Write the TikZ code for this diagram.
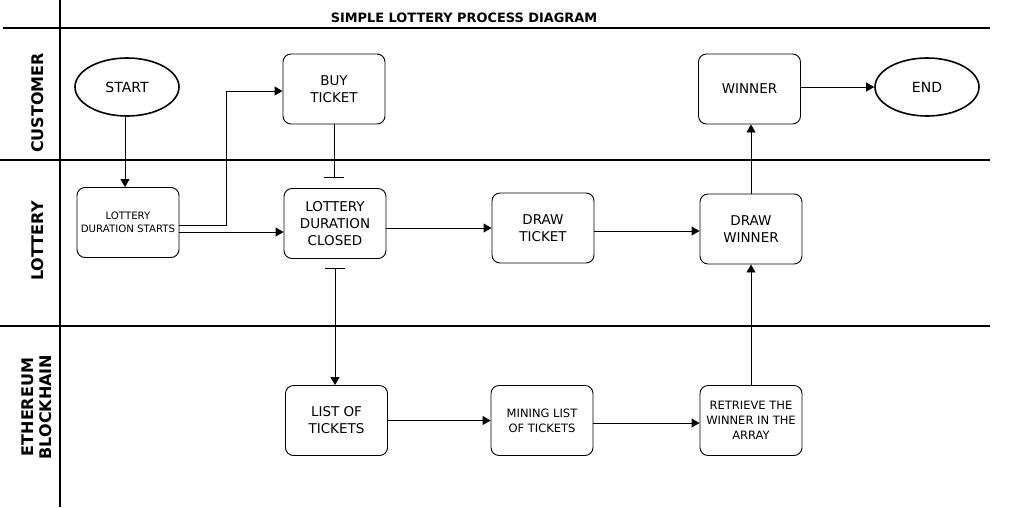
\documentclass[tikz,border=0pt]{standalone}
\usepackage{fontspec}
\setmainfont{DejaVu Sans}
\usetikzlibrary{shapes.geometric,arrows.meta,calc}
\begin{document}
\begin{tikzpicture}[x=1pt,y=-1pt,
  lane/.style={line width=2.6pt},
  box/.style={draw,rounded corners=8pt,line width=0.9pt,minimum width=102pt,minimum height=70pt,inner sep=0pt,align=center,font=\fontsize{13.5}{17}\selectfont},
  smallbox/.style={box,font=\fontsize{11.5}{15}\selectfont},
  tinybox/.style={box,font=\fontsize{10.2}{13}\selectfont},
  oval/.style={draw,ellipse,line width=1.6pt,minimum width=104pt,minimum height=58pt,inner sep=0pt,font=\fontsize{14}{15}\selectfont},
  lanelabel/.style={rotate=90,font=\bfseries\fontsize{16}{18}\selectfont,align=center},
  arr/.style={line width=0.9pt,-{Triangle[length=8pt,width=9pt]}},
  teeline/.style={line width=0.9pt},
]
\useasboundingbox (0,0) rectangle (1012,507);
% lanes
\draw[lane] (60,0) -- (60,507);
\draw[lane] (3,28) -- (990,28);
\draw[lane] (0,160) -- (990,160);
\draw[lane] (0,326) -- (990,326);
\node[font=\bfseries\fontsize{12.9}{14}\selectfont] (title) at (464,18) {SIMPLE LOTTERY PROCESS DIAGRAM};
\node[lanelabel] (lc) at (38,103) {CUSTOMER};
\node[lanelabel] (ll) at (38,241) {LOTTERY};
\node[lanelabel] (le) at (37,407) {ETHEREUM\\BLOCKHAIN};
% nodes
\node[oval] (start) at (127,87) {START};
\node[oval] (end) at (927,87) {END};
\node[tinybox] (lds) at (128,222.5) {LOTTERY\\DURATION STARTS};
\node[box] (buy) at (334,89) {BUY\\TICKET};
\node[box] (ldc) at (335,223.5) {LOTTERY\\DURATION\\CLOSED};
\node[box] (dt) at (543,228) {DRAW\\TICKET};
\node[box] (dw) at (751,229) {DRAW\\WINNER};
\node[box] (win) at (749.5,89) {WINNER};
\node[box] (list) at (336.5,420.5) {LIST OF\\TICKETS};
\node[smallbox] (mine) at (542,420.5) {MINING LIST\\OF TICKETS};
\node[smallbox] (ret) at (751,420.5) {RETRIEVE THE\\WINNER IN THE\\ARRAY};
% connectors
\draw[arr] (start.south -| 125,0) -- (lds.north -| 125,0);
\coordinate (bend) at (226,91);
\draw[arr] ([yshift=-2.5pt]lds.east) -| (bend) -- (bend -| buy.west);
\coordinate (a1) at ([yshift=-9.5pt]lds.east);
\draw[arr] (a1) -- (a1 -| ldc.west);
\draw[teeline,-{Bar[width=20pt,line width=0.9pt]},shorten >=10pt] (buy.south) -- (buy.south |- ldc.north);
\draw[arr,{Bar[width=20pt,line width=0.9pt]}-{Triangle[length=8pt,width=9pt]},shorten <=9pt] (ldc.south) -- (ldc.south |- list.north);
\draw[arr] (dt.west -| ldc.east) -- (dt.west);
\coordinate (a2) at ([yshift=-3pt]dt.east);
\draw[arr] (a2) -- (a2 -| dw.west);
\draw[arr] (dw.north) -- (dw.north |- win.south);
\draw[arr] (end.west -| win.east) -- (end.west);
\draw[arr] (list.east) -- (mine.west);
\coordinate (a3) at ([yshift=-2.5pt]mine.east);
\draw[arr] (a3) -- (a3 -| ret.west);
\draw[arr] (ret.north) -- (dw.south);
\end{tikzpicture}
\end{document}
